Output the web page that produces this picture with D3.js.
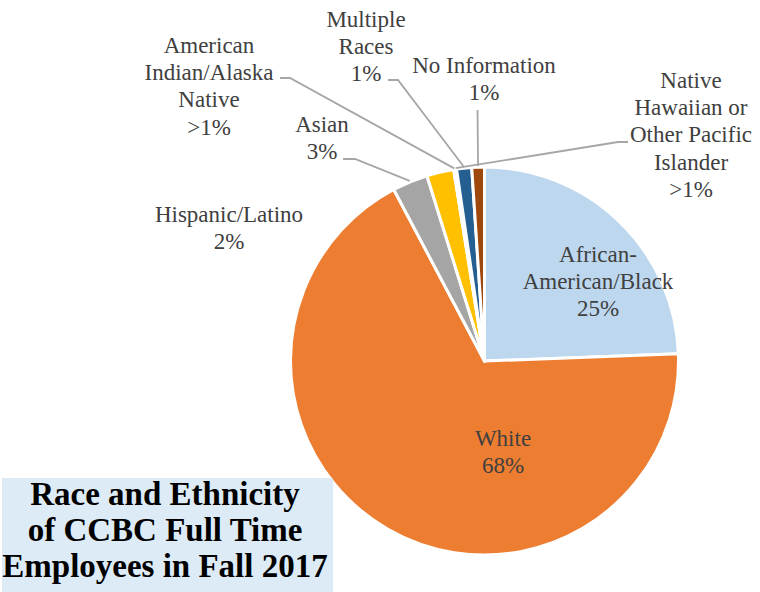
<!DOCTYPE html>
<html><head><meta charset="utf-8">
<script src="https://cdn.jsdelivr.net/npm/d3@7"></script>
<style>
  body { margin: 0; }
  #wrap { position: relative; width: 760px; height: 592px; overflow: hidden; }
  #s { position: absolute; left: 0; top: 0; display: block; }
  .lbl { position: absolute; white-space: nowrap; font-family: "Liberation Serif"; transform: translateX(-50%); }
</style>
</head><body>
<div id="wrap"><svg id="s" width="760" height="592"></svg></div>
<script>
// ---- data ----
const categories = [
  "African-American/Black",
  "White",
  "Asian",
  "Hispanic/Latino",
  "American Indian/Alaska Native",
  "Native Hawaiian or Other Pacific Islander",
  "Multiple Races",
  "No Information"
];
const values = [24.4, 67.8, 2.95, 2.25, 0.12, 0.12, 1.25, 1.05];
const valueLabels = ["25%", "68%", "3%", "2%", ">1%", ">1%", "1%", "1%"];
const colors = ["#BDD7EE", "#ED7D31", "#A5A5A5", "#FFC000", "#4472C4", "#70AD47", "#255E91", "#9E480E"];
const titleLines = ["Race and Ethnicity", "of CCBC Full Time", "Employees in Fall 2017"];

// ---- layout (label text placement) ----
const labelLines = [
  ["African-", "American/Black"],
  ["White"],
  ["Asian"],
  ["Hispanic/Latino"],
  ["American", "Indian/Alaska", "Native"],
  ["Native", "Hawaiian or", "Other Pacific", "Islander"],
  ["Multiple", "Races"],
  ["No Information"]
];
const labelPos = [
  [598, 262], [503, 446], [322, 132], [229, 222],
  [209, 53], [691, 88], [366, 27], [484, 73]
];
const leaderStart = [
  null, null,
  [[343, 159], [355, 159]],
  null,
  [[280, 78], [290, 78]],
  [[628, 142], [618, 142]],
  [[388, 80], [398, 80]],
  [[477.5, 110]]
];

const svg = d3.select("#s");
const wrap = d3.select("#wrap");
const cx = 484.5, cy = 361, R = 194;
const lineH = 27.3;

const pie = d3.pie().sort(null).value(d => d)(values);
const arc = d3.arc().innerRadius(0).outerRadius(R);
const edgeArc = d3.arc().innerRadius(R + 1).outerRadius(R + 1);

const g = svg.append("g").attr("transform", `translate(${cx},${cy})`);
g.selectAll("path.slice")
  .data(pie)
  .join("path")
  .attr("class", "slice")
  .attr("d", arc)
  .attr("fill", (d, i) => colors[i])
  .attr("stroke", "#ffffff")
  .attr("stroke-width", 3)
  .attr("stroke-linejoin", "round");

const lineGen = d3.line();
pie.forEach((d, i) => {
  if (!leaderStart[i]) return;
  const c = edgeArc.centroid(d);
  const pts = leaderStart[i].map(p => [p[0], p[1]]);
  pts.push([c[0] + cx, c[1] + cy]);
  svg.append("path")
    .attr("d", lineGen(pts))
    .attr("fill", "none")
    .attr("stroke", "#A6A6A6")
    .attr("stroke-width", 1.8);
});

// title box (in svg, under the html text)
svg.append("rect")
  .attr("x", 2).attr("y", 478)
  .attr("width", 331).attr("height", 114)
  .attr("fill", "#DDEBF7");

// HTML text centred on x with its baseline at y
function centredText(s, x, y, size, weight, fill) {
  // Liberation Serif: ascent 0.891em, descent 0.216em; line-height = size
  const baselineFromTop = (size - 1.107 * size) / 2 + 0.891 * size;
  wrap.append("div")
    .attr("class", "lbl")
    .style("left", x + "px")
    .style("top", (y - baselineFromTop) + "px")
    .style("font-size", size + "px")
    .style("line-height", size + "px")
    .style("font-weight", weight)
    .style("color", fill)
    .text(s);
}

pie.forEach((d, i) => {
  const lines = labelLines[i].concat([valueLabels[i]]);
  lines.forEach((s, k) => {
    centredText(s, labelPos[i][0], labelPos[i][1] + k * lineH, 23, "normal", "#404040");
  });
});
titleLines.forEach((s, k) => {
  centredText(s, 165, 506 + k * 36, 33, "bold", "#000");
});
</script></body></html>
